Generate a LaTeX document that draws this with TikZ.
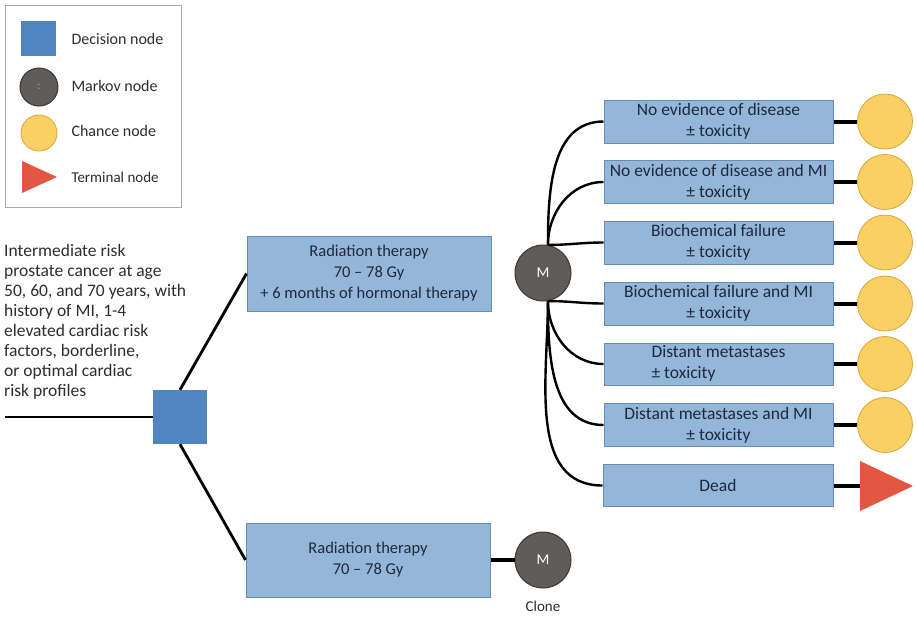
\documentclass[tikz,border=0pt]{standalone}
\usepackage{fontspec}
\setmainfont{Carlito}
\usetikzlibrary{calc}
\definecolor{boxblue}{RGB}{148,183,217}
\definecolor{boxedge}{RGB}{105,140,182}
\definecolor{decblue}{RGB}{79,134,192}
\definecolor{markovgray}{RGB}{96,92,90}
\definecolor{markovedge}{RGB}{58,56,55}
\definecolor{chanceyel}{RGB}{251,208,98}
\definecolor{chanceedge}{RGB}{214,166,62}
\definecolor{termred}{RGB}{226,86,66}
\definecolor{boxtext}{RGB}{30,40,62}
\definecolor{plaintext}{RGB}{45,45,45}
\definecolor{legendedge}{RGB}{170,170,170}
\tikzset{
  statebox/.style={rectangle, fill=boxblue, draw=boxedge, line width=1pt, text=boxtext,
    align=center, inner sep=0pt, font=\fontsize{17.5}{21}\selectfont},
  markov/.style={circle, fill=markovgray, draw=markovedge, line width=1pt, minimum size=56pt,
    inner sep=0pt, text=white, font=\fontsize{15}{18}\selectfont},
  chance/.style={circle, fill=chanceyel, draw=chanceedge, line width=0.8pt, minimum size=55pt, inner sep=0pt},
  decision/.style={rectangle, fill=decblue, minimum size=54pt, inner sep=0pt},
  branch/.style={line width=2.8pt, black},
  twig/.style={line width=2.4pt, black},
  stub/.style={line width=4pt, black},
  legtext/.style={anchor=west, text=plaintext, font=\fontsize{16}{19}\selectfont},
}
\begin{document}
\begin{tikzpicture}[x=1pt,y=-1pt]
\useasboundingbox (0,0) rectangle (917,616);
% legend
\node[draw=legendedge, line width=1.2pt, minimum width=176pt, minimum height=202pt, anchor=north west, inner sep=0pt] (legend) at (5,5) {};
\node[decision, minimum size=35pt] (ldec) at (38.5,38) {};
\node[markov, minimum size=38pt, text=gray!75, font=\fontsize{12}{12}\selectfont] (lmar) at (39,87) {:};
\node[chance, minimum size=36pt] (lcha) at (39,133) {};
\fill[termred] (22,161) -- (57,177) -- (22,193) -- cycle;
\coordinate (lter) at (39,177);
\node[legtext] (tdec) at (68,39) {Decision node};
\node[legtext] (tmar) at (68,86) {Markov node};
\node[legtext] (tcha) at (68,131) {Chance node};
\node[legtext, font=\fontsize{15}{18}\selectfont] (tter) at (68,177) {Terminal node};
% left description
\node[anchor=north west, align=left, text=plaintext, inner sep=0pt, font=\fontsize{17.5}{20}\selectfont] (desc) at (4,244)
 {Intermediate risk\\ prostate cancer at age\\ 50, 60, and 70 years, with\\ history of MI, 1-4\\ elevated cardiac risk\\ factors, borderline,\\ or optimal cardiac\\ risk profiles};
\coordinate (start) at (5,417);
\node[decision] (dec) at (180,417) {};
\node[statebox, minimum width=244pt, minimum height=75pt, font=\fontsize{16.5}{21}\selectfont] (rtht) at (369,273.5)
 {Radiation therapy\\ 70 – 78 Gy\\ + 6 months of hormonal therapy};
\node[statebox, minimum width=244pt, minimum height=74pt, font=\fontsize{16.5}{21}\selectfont] (rt) at (368,560)
 {Radiation therapy\\ 70 – 78 Gy};
\node[markov] (M) at (543,273) {M};
\node[markov] (Mc) at (543,560) {M};
\node[text=plaintext, font=\fontsize{15}{18}\selectfont] (clone) at (543,606) {Clone};
\draw[branch] (start) -- (dec.west);
\draw[branch] (dec.north) -- (rtht.west);
\draw[branch] (dec.south) -- (rt.west);
\draw[stub] (rt.east) -- (Mc.west);
% right states
\foreach \n/\y/\t in {b1/121.5/{No evidence of disease\\ ± toxicity},
                      b2/182/{No evidence of disease and MI\\ ± toxicity},
                      b3/242.5/{Biochemical failure\\ ± toxicity},
                      b4/303.5/{Biochemical failure and MI\\ ± toxicity},
                      b6/425/{Distant metastases and MI\\ ± toxicity}}{
  \node[statebox, minimum width=229pt, minimum height=43pt] (\n) at (718.5,\y) {\t};
  \node[chance] (c\n) at (885,\y) {};
  \draw[stub] (\n.east) -- (c\n.west);
}
\node[statebox, minimum width=229pt, minimum height=42pt] (b5) at (718.5,364)
 {\begin{tabular}{@{}l@{}}Distant metastases\\ ± toxicity\end{tabular}};
\node[chance] (cb5) at (885,364) {};
\draw[stub] (b5.east) -- (cb5.west);
\node[statebox, minimum width=230pt, minimum height=42pt] (dead) at (718,485.5) {Dead};
\fill[termred] (860,461) -- (913,486) -- (860,511) -- cycle;
\coordinate (term) at (860,485.5);
\draw[stub] (dead.east) -- (term);
% branches from Markov node
\draw[twig] (M.80) to[out=90,in=180] (b1.west);
\draw[twig] (M.80) to[out=90,in=180] (b2.west);
\draw[twig] (M.80) to[out=0,in=180] (b3.west);
\draw[twig] (M.-80) to[out=0,in=180] (b4.west);
\draw[twig] (M.-80) to[out=-90,in=180] (b5.west);
\draw[twig] (M.-80) to[out=-90,in=180] (b6.west);
\draw[twig] (M.-80) to[out=-90,in=180] (dead.west);
\end{tikzpicture}
\end{document}
